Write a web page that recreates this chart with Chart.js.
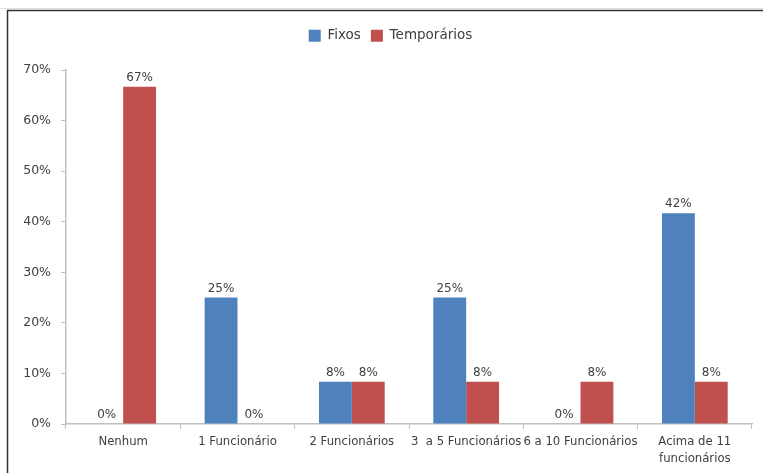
<!DOCTYPE html>
<html>
<head>
<meta charset="utf-8">
<script src="https://cdn.jsdelivr.net/npm/chart.js@4/dist/chart.umd.min.js"></script>
<style>
html,body{margin:0;padding:0;background:#fff;}
#wrap{width:763px;height:473px;position:relative;}
</style>
</head>
<body>
<div id="wrap"><canvas id="c" width="763" height="473"></canvas></div>
<script>
const categories = ["Nenhum", "1 Funcionário", "2 Funcionários", "3  a 5 Funcionários", "6 a 10 Funcionários", ["Acima de 11", "funcionários"]];
const fixos = [0, 25, 8.33, 25, 0, 41.67];
const temporarios = [66.67, 0, 8.33, 8.33, 8.33, 8.33];
const yTicks = [0, 10, 20, 30, 40, 50, 60, 70];

const FONT = "'DejaVu Sans', sans-serif";
const TXT = '#404040';
const AXIS = '#c0c0c0';

const framePlugin = {
  id: 'frame',
  beforeLayout(chart) {
    const lg = chart.legend;
    if (lg && !lg._patched) {
      const orig = lg.fit;
      lg.fit = function () { orig.call(this); this.height += 17.5; };
      lg._patched = true;
    }
  },
  afterLayout(chart) {
    const lg = chart.legend;
    if (lg) { lg.left += 7.5; lg.right += 7.5; }
  },
  beforeDraw(chart) {
    const ctx = chart.ctx;
    ctx.save();
    ctx.fillStyle = '#fff';
    ctx.fillRect(0, 0, chart.width, chart.height);
    ctx.strokeStyle = '#e0e0e0';
    ctx.lineWidth = 1;
    ctx.beginPath();
    ctx.moveTo(0, 8.5); ctx.lineTo(chart.width, 8.5);
    ctx.stroke();
    ctx.strokeStyle = '#333';
    ctx.lineWidth = 1.5;
    ctx.beginPath();
    ctx.moveTo(7.5, chart.height); ctx.lineTo(7.5, 10.5); ctx.lineTo(chart.width, 10.5);
    ctx.stroke();
    ctx.restore();
  }
};

const labelPlugin = {
  id: 'vlabels',
  afterDatasetsDraw(chart) {
    const ctx = chart.ctx;
    ctx.save();
    ctx.font = "12px " + FONT;
    ctx.fillStyle = TXT;
    ctx.textAlign = 'center';
    ctx.textBaseline = 'bottom';
    chart.data.datasets.forEach((ds, i) => {
      const meta = chart.getDatasetMeta(i);
      meta.data.forEach((bar, j) => {
        const v = Math.round(ds.data[j]);
        ctx.fillText(v + '%', bar.x, bar.y - 3);
      });
    });
    ctx.restore();
  }
};

new Chart(document.getElementById('c'), {
  type: 'bar',
  data: {
    labels: categories,
    datasets: [
      { label: 'Fixos', data: fixos, backgroundColor: '#4F81BD', borderWidth: 0 },
      { label: 'Temporários', data: temporarios, backgroundColor: '#C0504D', borderWidth: 0 }
    ]
  },
  options: {
    responsive: false,
    animation: false,
    devicePixelRatio: 1,
    layout: { padding: { left: 14, right: 11, top: 19, bottom: 0 } },
    datasets: { bar: { categoryPercentage: 0.575, barPercentage: 1.0 } },
    plugins: {
      legend: {
        position: 'top',
        labels: {
          font: { family: FONT, size: 13.5 },
          color: TXT,
          boxWidth: 12,
          boxHeight: 12,
          padding: 10
        },
        onClick: null
      },
      tooltip: { enabled: false }
    },
    scales: {
      x: {
        offset: true,
        grid: { display: true, offset: true, drawOnChartArea: false, tickLength: 5, color: AXIS },
        border: { color: AXIS, width: 1.5 },
        ticks: { font: { family: FONT, size: 11.7, lineHeight: 1.4 }, color: TXT, maxRotation: 0, autoSkip: false, padding: 5 },
        afterFit(scale) { scale.height = 49; }
      },
      y: {
        min: 0, max: 70,
        afterBuildTicks(scale) { scale.ticks = yTicks.map(v => ({ value: v })); },
        grid: { display: true, drawOnChartArea: false, tickLength: 5, color: AXIS },
        border: { color: AXIS, width: 1.5 },
        ticks: { font: { family: FONT, size: 12.5 }, color: TXT, padding: 10, callback: v => v + '%' },
        afterFit(scale) { scale.width = 52; }
      }
    }
  },
  plugins: [framePlugin, labelPlugin]
});
</script>
</body>
</html>
